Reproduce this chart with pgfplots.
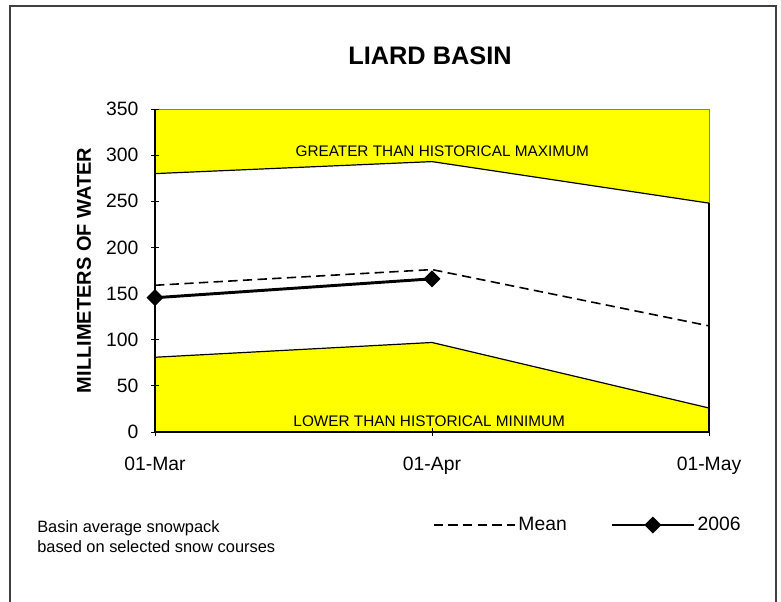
\documentclass[border=0pt]{standalone}
\usepackage{pgfplots}
\pgfplotsset{compat=1.18}
\usepackage{fontspec}
\setmainfont{Liberation Sans}
\definecolor{band}{HTML}{FFFF00}
\definecolor{framegray}{HTML}{404040}

\begin{document}
\begin{tikzpicture}
% page = 781 x 601 px at 0.75pt per px, axis corner at px (155,432)
\useasboundingbox (-116.25pt,-126.75pt) rectangle (469.5pt,324pt);
\begin{axis}[
    at={(0pt,0pt)}, anchor=south west,
    scale only axis, width=415.5pt, height=242.25pt,
    xmin=0, xmax=2, ymin=0, ymax=350,
    xtick={0,1,2}, xticklabels={01-Mar,01-Apr,01-May},
    ytick={0,50,...,350},
    axis lines*=left, axis line style={-, black, line width=0.8pt},
    tick align=center, major tick length=6pt,
    tick style={black, line width=0.6pt},
    ticklabel style={font=\fontsize{14.5pt}{17pt}\selectfont},
    xticklabel style={yshift=-12pt},
    yticklabel style={xshift=-6pt},
    /pgf/number format/assume math mode=true,
    axis on top, clip=false,
    legend columns=2,
    legend style={draw=none, fill=none, at={(0.501,-0.288)}, anchor=west,
        inner sep=0pt, font=\fontsize{14.5pt}{17pt}\selectfont,
        /tikz/every even column/.append style={column sep=31pt}},
    legend image code/.code={\draw[mark repeat=2,mark phase=2,#1]
        plot coordinates {(0pt,0pt)(30.5pt,0pt)(61pt,0pt)};},
]
% bands outside the historical range
\addplot[fill=band, draw=none, forget plot]
    coordinates {(0,280)(1,293)(2,248)(2,350)(0,350)} -- cycle;
\addplot[fill=band, draw=none, forget plot]
    coordinates {(0,81)(1,97)(2,26)} \closedcycle;
\addplot[black, line width=0.9pt, forget plot]
    coordinates {(0,280)(1,293)(2,248)};
\addplot[black, line width=0.9pt, forget plot]
    coordinates {(0,81)(1,97)(2,26)};
\draw[gray] (axis cs:0,350) -- (axis cs:2,350) -- (axis cs:2,248);
\draw[black, line width=0.9pt] (axis cs:2,248) -- (axis cs:2,0);

\addplot[black, line width=1.2pt, dash pattern=on 7pt off 4pt]
    coordinates {(0,159)(1,176)(2,115)};
\addlegendentry{Mean}
\addplot[black, line width=2.2pt, mark=square*, mark size=3.4pt,
    mark options={rotate=45, solid}]
    coordinates {(0,145.5)(1,166)};
\addlegendentry{2006}

\node[anchor=base, inner sep=0pt, font=\fontsize{11.5pt}{13pt}\selectfont]
    at (axis cs:1.037,299) {GREATER THAN HISTORICAL MAXIMUM};
\node[anchor=base, inner sep=0pt, font=\fontsize{11.5pt}{13pt}\selectfont]
    at (axis cs:0.99,6.2) {LOWER THAN HISTORICAL MINIMUM};
\node[rotate=90, font=\bfseries\fontsize{15pt}{18pt}\selectfont]
    at (axis description cs:-0.128,0.5) {MILLIMETERS OF WATER};
\end{axis}

\node[anchor=base, font=\bfseries\fontsize{19pt}{22pt}\selectfont]
    at (206.25pt,275.5pt) {LIARD BASIN};
% baseline of the node is its last line
\node[anchor=base west, inner sep=0pt, align=left,
    font=\fontsize{12.3pt}{15pt}\selectfont]
    at (-88.5pt,-90pt) {Basin average snowpack\\based on selected snow courses};
\draw[framegray, line width=1.5pt] (-108.75pt,-130pt) -- (-108.75pt,319.7pt)
    -- (465.5pt,319.7pt) -- (465.5pt,-130pt);
\end{tikzpicture}
\end{document}
